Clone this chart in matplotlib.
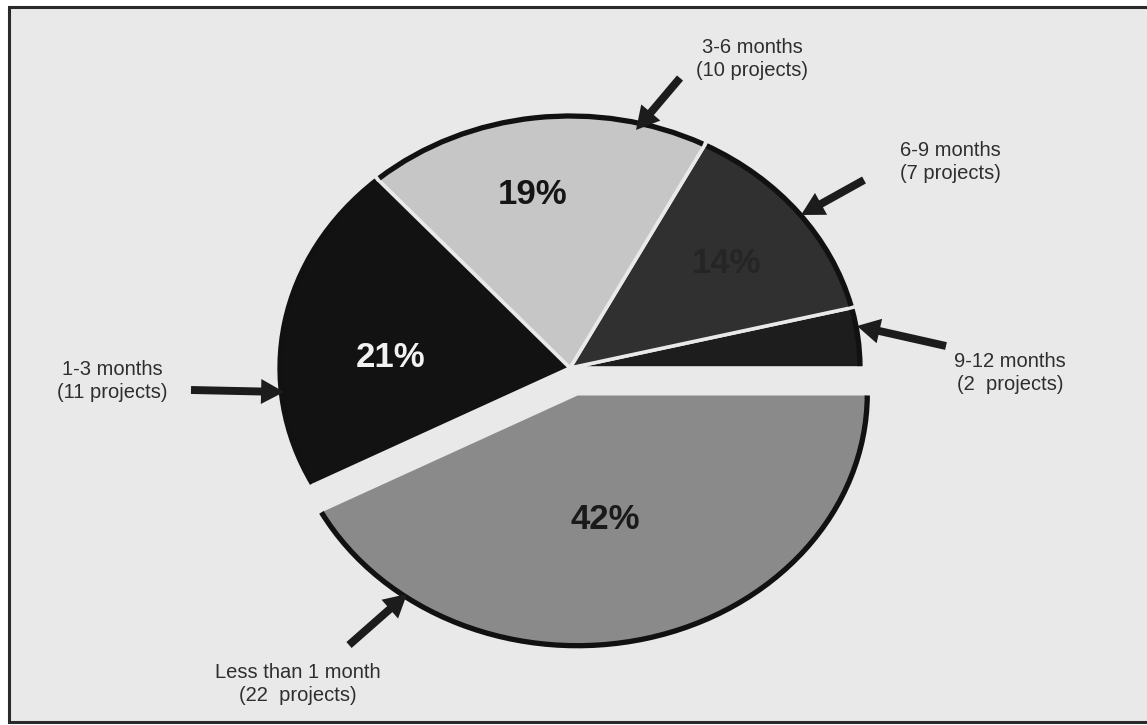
import matplotlib
matplotlib.use("Agg")
import matplotlib.pyplot as plt
from matplotlib.patches import Arc, Rectangle
import numpy as np

plt.rcParams['font.family'] = ['Liberation Sans', 'DejaVu Sans']

# ---- data (counter-clockwise from 3 o'clock) ----
categories = ["9-12 months", "6-9 months", "3-6 months", "1-3 months", "Less than 1 month"]
projects = [2, 7, 10, 11, 22]
percent_labels = [4, 14, 19, 21, 42]          # as printed on the chart
show_percent = [False, True, True, True, True]
count_labels = ["(2  projects)", "(7 projects)", "(10 projects)", "(11 projects)", "(22  projects)"]
colors = ["#1d1d1d", "#303030", "#c6c6c6", "#121212", "#8a8a8a"]
pct_colors = ["#1d1d1d", "#252525", "#151515", "#f2f2f2", "#1a1a1a"]
explode = [0, 0, 0, 0, 0.105]

BG = "#e9e9e9"
W, H = 1147, 725
fig = plt.figure(figsize=(W / 100, H / 100), dpi=100)
fig.patch.set_facecolor("white")

# background panel with frame
ax_bg = fig.add_axes([0, 0, 1, 1], zorder=0)
ax_bg.set_xlim(0, W)
ax_bg.set_ylim(H, 0)
ax_bg.axis("off")
ax_bg.add_patch(Rectangle((9, 7), W + 20, 715, facecolor=BG, edgecolor="#2a2a2a", lw=2.2))

# pie axes (elliptical pie through non-equal scaling)
cx, cy, rh, rv = 570, 368, 290, 252
lim = 1.3
ax = fig.add_axes([(cx - lim * rh) / W, (H - cy - lim * rv) / H, 2 * lim * rh / W, 2 * lim * rv / H], zorder=1)
ax.patch.set_alpha(0)

wedges, _ = ax.pie(projects, colors=colors, explode=explode, startangle=0, counterclock=True,
                   wedgeprops=dict(edgecolor=BG, linewidth=2.6))
ax.set_aspect("auto")
ax.set_xlim(-lim, lim)
ax.set_ylim(-lim, lim)
ax.axis("off")

# dark outer rim
for w in wedges:
    ax.add_patch(Arc(w.center, 2 * w.r, 2 * w.r, theta1=w.theta1 + 0.4, theta2=w.theta2 - 0.4,
                     color="#111111", lw=3.8, zorder=3))

# percentage labels (distance from centre, angular shift from wedge middle)
pct_dist = [0.0, 0.68, 0.70, 0.62, 0.51]
pct_shift = [0, -0.7, 3.6, 6.4, -2.9]
for w, p, show, d, s, c in zip(wedges, percent_labels, show_percent, pct_dist, pct_shift, pct_colors):
    if not show:
        continue
    mid = np.deg2rad((w.theta1 + w.theta2) / 2 + s)
    x = w.center[0] + d * w.r * np.cos(mid)
    y = w.center[1] + d * w.r * np.sin(mid)
    ax.text(x, y, f"{p}%", ha="center", va="center", fontsize=25, fontweight="bold",
            color=c, zorder=4)

# overlay for annotations (pixel coordinates)
ax_o = fig.add_axes([0, 0, 1, 1], zorder=2)
ax_o.set_xlim(0, W)
ax_o.set_ylim(H, 0)
ax_o.axis("off")
ax_o.patch.set_alpha(0)

label_pos = [(1010, 373), (950, 162), (752, 59), (112, 381), (298, 684)]
arrows = [((946, 346), (857, 326)),
          ((864, 180), (801, 215)),
          ((680, 78), (636, 130)),
          ((191, 390), (284, 392)),
          ((349, 645), (407, 594))]

for cat, cl, (lx, ly), (start, tip) in zip(categories, count_labels, label_pos, arrows):
    ax_o.text(lx, ly, f"{cat}\n{cl}", ha="center", va="center", fontsize=14.5,
              color="#2e2e2e", linespacing=1.3)
    ax_o.annotate("", xy=tip, xytext=start,
                  arrowprops=dict(arrowstyle="simple,head_length=1.1,head_width=1.2,tail_width=0.38",
                                  mutation_scale=15, color="#1c1c1c", lw=0,
                                  shrinkA=0, shrinkB=0))

fig.savefig("out.png", dpi=100, facecolor=fig.get_facecolor())
